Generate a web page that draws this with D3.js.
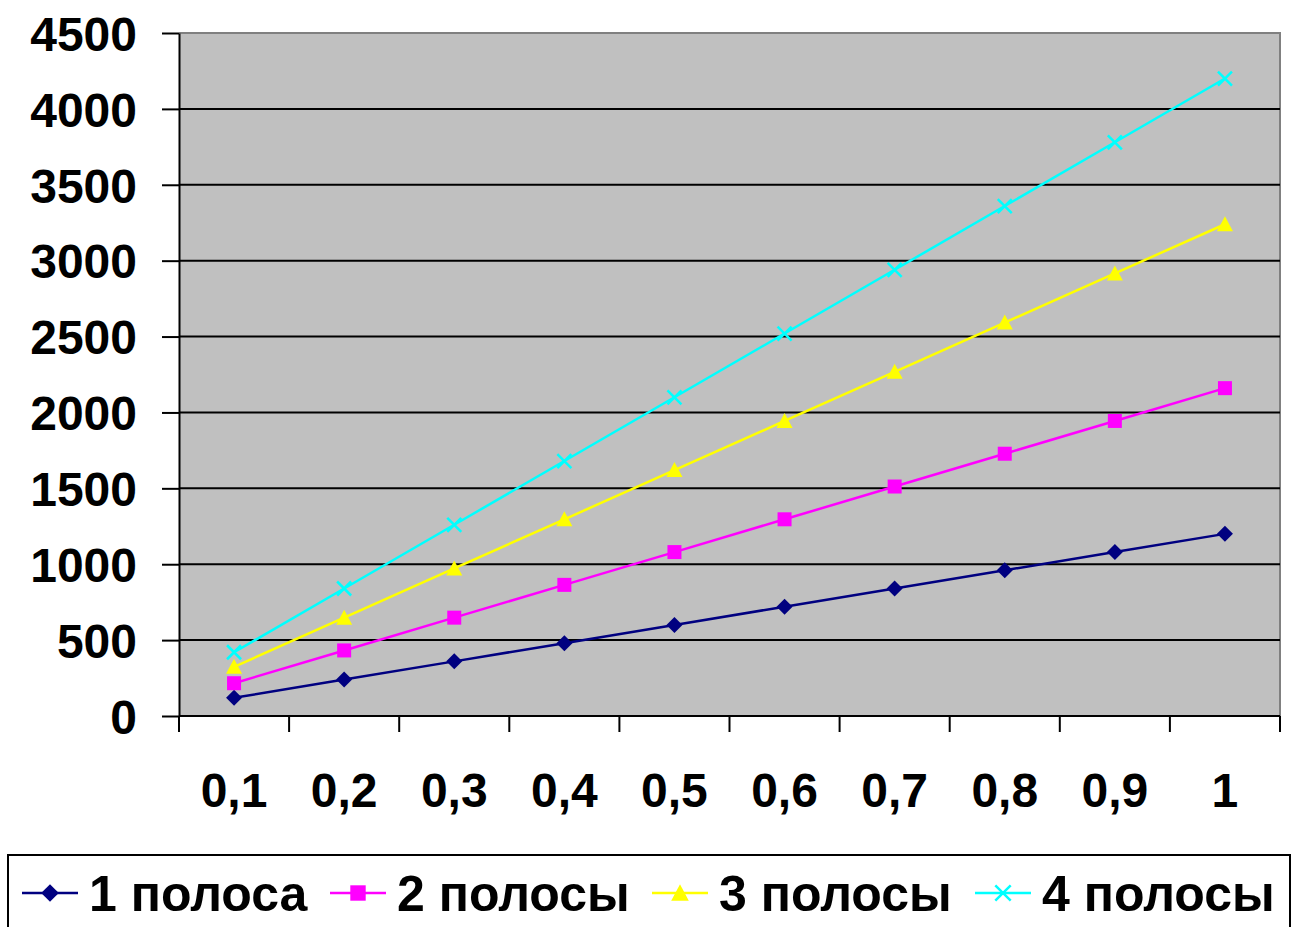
<!DOCTYPE html>
<html>
<head>
<meta charset="utf-8">
<script src="https://cdn.jsdelivr.net/npm/d3@7"></script>
<style>
  html, body { margin: 0; padding: 0; background: #fff; }
  svg { display: block; }
  text { font-family: "Liberation Sans", Arial, sans-serif; font-weight: bold; fill: #000; }
</style>
</head>
<body>
<svg id="chart" width="1292" height="927"></svg>
<script>
// Categories (x axis) and values for each series
const categories = ["0,1", "0,2", "0,3", "0,4", "0,5", "0,6", "0,7", "0,8", "0,9", "1"];
const seriesNames = ["1 полоса", "2 полосы", "3 полосы", "4 полосы"];
const s1 = [120, 240, 360, 480, 600, 720, 840, 960, 1080, 1200];
const s2 = [216, 432, 648, 864, 1080, 1296, 1512, 1728, 1944, 2160];
const s3 = [324, 648, 972, 1296, 1620, 1944, 2268, 2592, 2916, 3240];
const s4 = [420, 840, 1260, 1680, 2100, 2520, 2940, 3360, 3780, 4200];
const yTicks = [0, 500, 1000, 1500, 2000, 2500, 3000, 3500, 4000, 4500];

const seriesValues = [s1, s2, s3, s4];
const colors = ["#000080", "#FF00FF", "#FFFF00", "#00FFFF"];
const markers = ["diamond", "square", "triangle", "cross"];

const svg = d3.select("#chart");
const plot = { left: 179, right: 1280, top: 33, bottom: 716 };

const x = d3.scaleBand().domain(categories).range([plot.left, plot.right]);
const y = d3.scaleLinear().domain([0, 4500]).range([plot.bottom, plot.top]);

// Plot background
svg.append("rect")
  .attr("x", plot.left).attr("y", plot.top)
  .attr("width", plot.right - plot.left).attr("height", plot.bottom - plot.top)
  .attr("fill", "#C0C0C0");

// Gray frame on top and right
svg.append("path")
  .attr("d", `M${plot.left},${plot.top}H${plot.right}V${plot.bottom}`)
  .attr("fill", "none").attr("stroke", "#808080").attr("stroke-width", 2);

// Horizontal gridlines
svg.append("g").selectAll("line")
  .data(yTicks.filter(d => d > 0 && d < 4500))
  .join("line")
  .attr("x1", plot.left).attr("x2", plot.right)
  .attr("y1", d => y(d)).attr("y2", d => y(d))
  .attr("stroke", "#000").attr("stroke-width", 2);

// Y axis
const yAxis = svg.append("g")
  .attr("transform", `translate(${plot.left},0)`)
  .call(d3.axisLeft(y).tickValues(yTicks).tickFormat(d3.format("d"))
    .tickSize(17).tickPadding(25).tickSizeOuter(0));
yAxis.select(".domain").attr("stroke", "#000").attr("stroke-width", 2);
yAxis.selectAll(".tick line").attr("stroke", "#000").attr("stroke-width", 2);
yAxis.selectAll("text")
  .attr("font-size", 48).attr("font-family", "Liberation Sans, Arial, sans-serif")
  .attr("font-weight", "bold").attr("fill", "#000").attr("dy", "0.36em");

// X axis: baseline with tick marks between categories
const xAxisG = svg.append("g");
xAxisG.append("line")
  .attr("x1", plot.left).attr("x2", plot.right)
  .attr("y1", plot.bottom).attr("y2", plot.bottom)
  .attr("stroke", "#000").attr("stroke-width", 2);
const boundaries = categories.map(c => x(c)).concat([x(categories[categories.length - 1]) + x.bandwidth()]);
xAxisG.selectAll("line.tk")
  .data(boundaries)
  .join("line")
  .attr("class", "tk")
  .attr("x1", d => d).attr("x2", d => d)
  .attr("y1", plot.bottom).attr("y2", plot.bottom + 16)
  .attr("stroke", "#000").attr("stroke-width", 2);
xAxisG.selectAll("text")
  .data(categories)
  .join("text")
  .attr("x", d => x(d) + x.bandwidth() / 2)
  .attr("y", 807)
  .attr("text-anchor", "middle")
  .attr("font-size", 48)
  .text(d => d);

// Marker shapes
function drawMarker(g, type, color, cx, cy, s = 1) {
  if (type === "diamond") {
    g.append("path")
      .attr("d", `M${cx},${cy - 8 * s}L${cx + 8 * s},${cy}L${cx},${cy + 8 * s}L${cx - 8 * s},${cy}Z`)
      .attr("fill", color);
  } else if (type === "square") {
    g.append("rect")
      .attr("x", cx - 7 * s).attr("y", cy - 7 * s).attr("width", 14 * s).attr("height", 14 * s)
      .attr("fill", color);
  } else if (type === "triangle") {
    g.append("path")
      .attr("d", `M${cx},${cy - 8 * s}L${cx + 8 * s},${cy + 7 * s}L${cx - 8 * s},${cy + 7 * s}Z`)
      .attr("fill", color);
  } else {
    g.append("path")
      .attr("d", `M${cx - 7 * s},${cy - 7 * s}L${cx + 7 * s},${cy + 7 * s}M${cx - 7 * s},${cy + 7 * s}L${cx + 7 * s},${cy - 7 * s}`)
      .attr("stroke", color).attr("stroke-width", 2.5).attr("fill", "none");
  }
}

// Lines and markers for each series
const line = d3.line()
  .x((d, i) => x(categories[i]) + x.bandwidth() / 2)
  .y(d => y(d));

seriesValues.forEach((vals, k) => {
  const g = svg.append("g");
  g.append("path")
    .datum(vals)
    .attr("d", line)
    .attr("fill", "none")
    .attr("stroke", colors[k])
    .attr("stroke-width", 2.5);
  vals.forEach((v, i) => {
    drawMarker(g, markers[k], colors[k], x(categories[i]) + x.bandwidth() / 2, y(v));
  });
});

// Legend
const legend = svg.append("g");
legend.append("rect")
  .attr("x", 8).attr("y", 855).attr("width", 1282).attr("height", 90)
  .attr("fill", "#fff").attr("stroke", "#000").attr("stroke-width", 2);

const legendX = [22, 330, 652, 975];
seriesNames.forEach((name, k) => {
  const lx = legendX[k];
  const ly = 893;
  legend.append("line")
    .attr("x1", lx).attr("x2", lx + 56)
    .attr("y1", ly).attr("y2", ly)
    .attr("stroke", colors[k]).attr("stroke-width", 2.5);
  drawMarker(legend, markers[k], colors[k], lx + 28, ly, 1.1);
  legend.append("text")
    .attr("x", lx + 67).attr("y", ly + 18)
    .attr("font-size", 50)
    .text(name);
});
</script>
</body>
</html>
